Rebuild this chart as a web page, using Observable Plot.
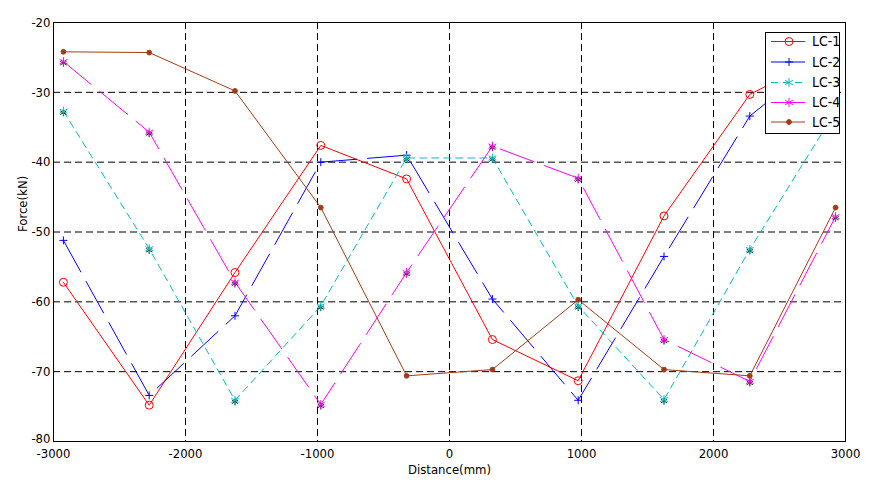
<!DOCTYPE html>
<html>
<head>
<meta charset="utf-8">
<script src="https://cdn.jsdelivr.net/npm/d3@7"></script>
<script src="https://cdn.jsdelivr.net/npm/@observablehq/plot@0.6"></script>
<style>
  html, body { margin: 0; padding: 0; background: #fff; }
  #wrap { position: relative; width: 869px; height: 483px; }
  #legend { position: absolute; left: 765px; top: 32px; }
</style>
</head>
<body>
<div id="wrap"></div>
<script>
// ---- data ----
const distance = [-2925, -2275, -1625, -975, -325, 325, 975, 1625, 2275, 2925];
const lc1 = [-57.2, -74.8, -55.8, -37.6, -42.4, -65.4, -71.3, -47.7, -30.3, -24.0];
const lc2 = [-51.2, -73.4, -62.0, -40.0, -39.0, -59.6, -74.1, -53.5, -33.4, -23.5];
const lc3 = [-32.7, -52.4, -74.1, -60.6, -39.4, -39.4, -60.6, -74.0, -52.5, -32.7];
const lc4 = [-25.6, -35.7, -57.2, -74.7, -55.8, -37.7, -42.3, -65.4, -71.4, -47.8];
const lc5 = [-24.2, -24.3, -29.8, -46.5, -70.6, -69.7, -59.7, -69.7, -70.6, -46.5];
const seriesNames = ["LC-1", "LC-2", "LC-3", "LC-4", "LC-5"];
const xTicks = [-3000, -2000, -1000, 0, 1000, 2000, 3000];
const yTicks = [-80, -70, -60, -50, -40, -30, -20];
const xLabel = "Distance(mm)";
const yLabel = "Force(kN)";

// ---- styles ----
const FONT = "'Liberation Sans Narrow', 'DejaVu Sans Condensed', 'Arial Narrow', 'Liberation Sans', sans-serif";
const styles = [
  {color: "#ff0000", dash: null, symbol: "circle", r: 4, fill: "none"},
  {color: "#0000ff", dash: "36,11", symbol: "plus", r: 2.7, fill: "none"},
  {color: "#00c0c0", dash: "7,5", symbol: "asterisk", r: 4.2, fill: "none"},
  {color: "#ff00ff", dash: "36,11", symbol: "asterisk", r: 4.2, fill: "none"},
  {color: "#a23c16", dash: null, symbol: "circle", r: 2.4, fill: "#a23c16"}
];
const allSeries = [lc1, lc2, lc3, lc4, lc5];
const data = allSeries.map((vals, i) => vals.map((v, j) => ({x: distance[j], y: v, s: seriesNames[i]})));

const fmt = d => String(d);
const marks = [
  Plot.gridX(xTicks, {stroke: "black", strokeOpacity: 1, strokeDasharray: "7,4"}),
  Plot.gridY(yTicks, {stroke: "black", strokeOpacity: 1, strokeDasharray: "7,4"}),
  Plot.frame({stroke: "black"}),
  Plot.axisX(xTicks, {tickSize: 0, tickPadding: 7, tickFormat: fmt, label: null}),
  Plot.axisY(yTicks.filter(t => t !== -80), {tickSize: 0, tickPadding: 3, tickFormat: fmt, label: null}),
  Plot.axisY([-80], {tickSize: 0, tickPadding: 3, tickFormat: fmt, label: null, dy: -3}),
  Plot.text([xLabel], {frameAnchor: "bottom", dy: 32, fontSize: 13}),
  Plot.text([yLabel], {frameAnchor: "left", dx: -31, rotate: -90, fontSize: 13})
];
data.forEach((d, i) => {
  const st = styles[i];
  marks.push(Plot.line(d, {x: "x", y: "y", stroke: st.color, strokeWidth: 1, strokeDasharray: st.dash || undefined}));
});
data.forEach((d, i) => {
  const st = styles[i];
  if (i === 2 || i === 3) {
    marks.push(Plot.dot(d, {x: "x", y: "y", symbol: "asterisk", r: 3.4, stroke: "#222", strokeWidth: 1, dy: 1.5}));
  }
  marks.push(Plot.dot(d, {x: "x", y: "y", symbol: st.symbol, r: st.r, stroke: st.color, fill: st.fill, strokeWidth: 1}));
});

const chart = Plot.plot({
  width: 869,
  height: 483,
  marginLeft: 53,
  marginRight: 24,
  marginTop: 22,
  marginBottom: 42,
  x: {domain: [-3000, 3000]},
  y: {domain: [-80, -20]},
  style: {fontFamily: FONT, fontSize: "13px", background: "white", color: "black"},
  marks
});
const wrap = document.getElementById("wrap");
wrap.appendChild(chart);

// ---- legend (inside plot, top right) ----
const lw = 74, lh = 101;
const leg = d3.select(wrap).append("svg").attr("id", "legend").attr("width", lw + 1).attr("height", lh + 1);
leg.append("rect").attr("x", 0.5).attr("y", 0.5).attr("width", lw).attr("height", lh)
  .attr("fill", "white").attr("stroke", "black");
const symMap = {circle: d3.symbolCircle, plus: d3.symbolPlus, asterisk: d3.symbolAsterisk};
const rowY = [9.5, 30, 50.5, 70.5, 90];
seriesNames.forEach((name, i) => {
  const st = styles[i];
  const y = rowY[i];
  leg.append("line").attr("x1", 6).attr("x2", 40).attr("y1", y).attr("y2", y)
    .attr("stroke", st.color).attr("stroke-width", 1)
    .attr("stroke-dasharray", i === 2 ? "7,5" : null);
  leg.append("path").attr("transform", `translate(24,${y})`)
    .attr("d", d3.symbol().type(symMap[st.symbol]).size(Math.PI * st.r * st.r)())
    .attr("fill", st.fill).attr("stroke", st.color).attr("stroke-width", 1);
  leg.append("text").attr("x", 47).attr("y", y).attr("dy", "0.35em")
    .attr("font-family", FONT).attr("font-size", 14).text(name);
});
</script>
</body>
</html>
